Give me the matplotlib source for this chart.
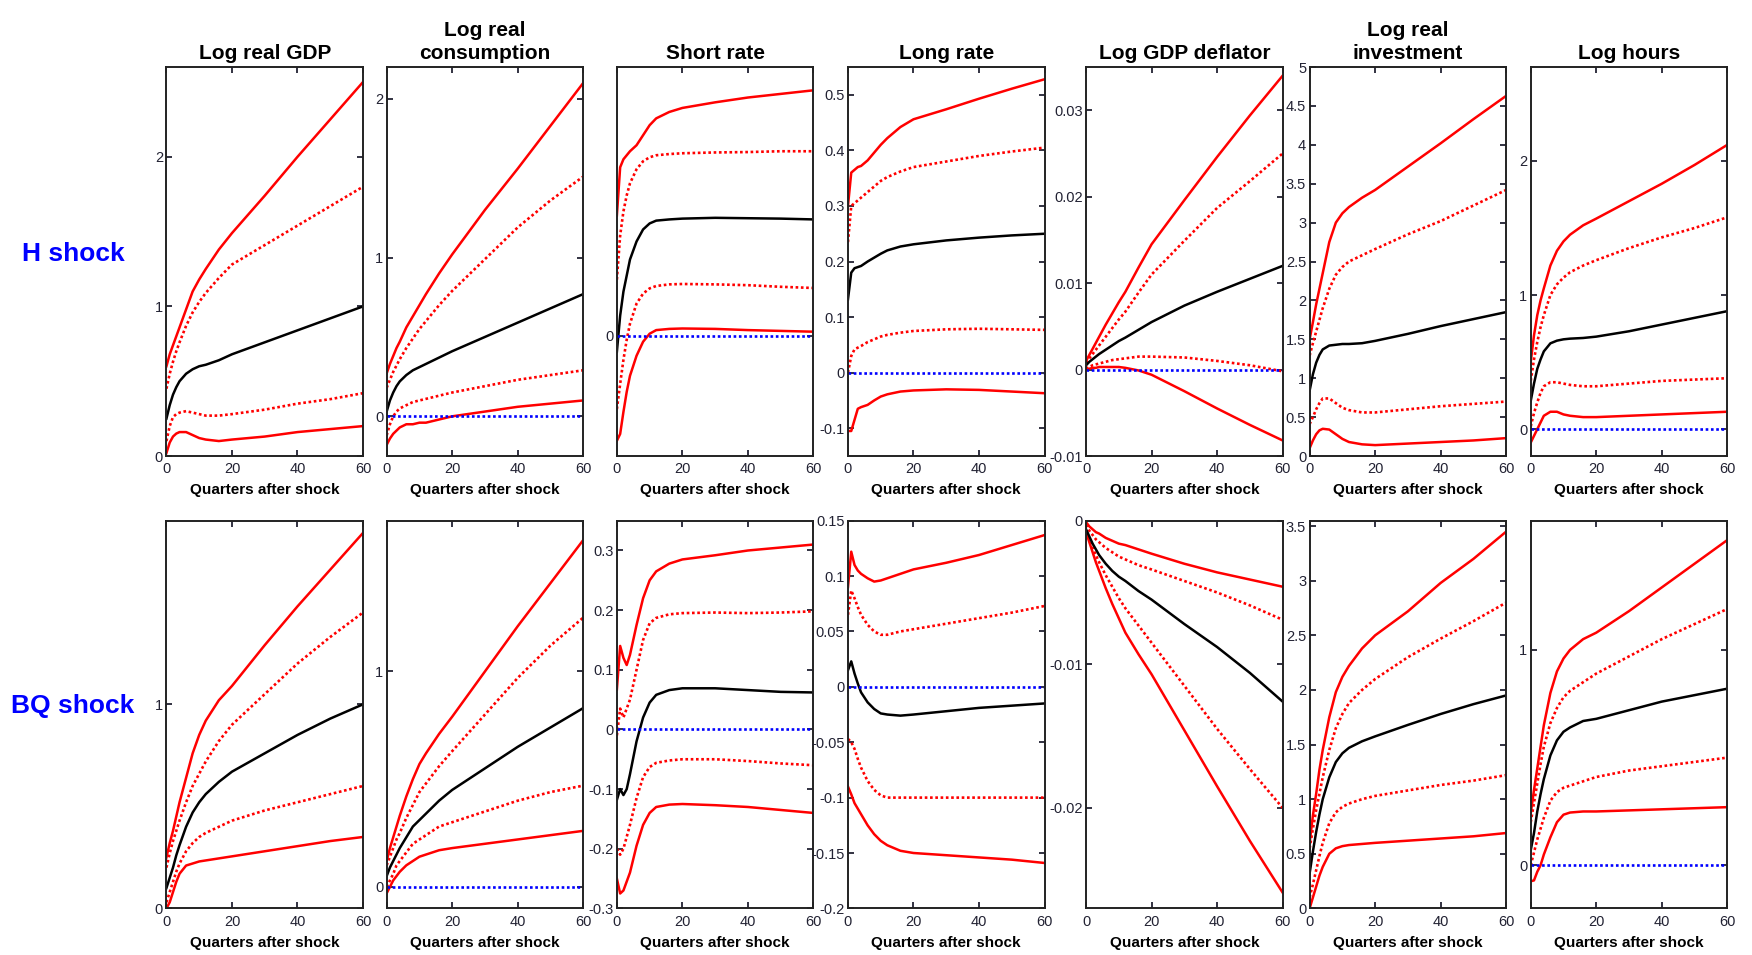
import matplotlib
matplotlib.use('Agg')
from matplotlib import pyplot as plt
from matplotlib.ticker import FuncFormatter

quarters = [0, 1, 2, 3, 4, 6, 8, 10, 12, 16, 20, 30, 40, 50, 60]

titles = ['Log real GDP', 'Log real\nconsumption', 'Short rate', 'Long rate',
          'Log GDP deflator', 'Log real\ninvestment', 'Log hours']
shock_names = ['H shock', 'BQ shock']
x_label = 'Quarters after shock'
x_ticks = [0, 20, 40, 60]

# H shock: upper 90%, upper 68%, median, lower 68%, lower 90%
h_gdp_hi90 = [0.6, 0.68, 0.74, 0.8, 0.86, 0.98, 1.1, 1.18, 1.25, 1.38, 1.49, 1.74, 2.0, 2.25, 2.5]
h_gdp_hi68 = [0.45, 0.55, 0.63, 0.7, 0.76, 0.87, 0.96, 1.03, 1.09, 1.19, 1.28, 1.41, 1.54, 1.67, 1.8]
h_gdp_med = [0.25, 0.34, 0.41, 0.46, 0.5, 0.55, 0.58, 0.6, 0.61, 0.64, 0.68, 0.76, 0.84, 0.92, 1.0]
h_gdp_lo68 = [0.1, 0.2, 0.26, 0.28, 0.29, 0.3, 0.29, 0.28, 0.27, 0.27, 0.28, 0.31, 0.35, 0.38, 0.42]
h_gdp_lo90 = [0.02, 0.09, 0.13, 0.15, 0.16, 0.16, 0.14, 0.12, 0.11, 0.1, 0.11, 0.13, 0.16, 0.18, 0.2]

h_cons_hi90 = [0.27, 0.33, 0.38, 0.43, 0.47, 0.56, 0.63, 0.7, 0.77, 0.9, 1.02, 1.3, 1.56, 1.83, 2.1]
h_cons_hi68 = [0.18, 0.23, 0.28, 0.32, 0.36, 0.43, 0.49, 0.55, 0.6, 0.7, 0.79, 0.99, 1.19, 1.36, 1.51]
h_cons_med = [0.03, 0.1, 0.15, 0.19, 0.22, 0.26, 0.29, 0.31, 0.33, 0.37, 0.41, 0.5, 0.59, 0.68, 0.77]
h_cons_lo68 = [-0.12, -0.05, 0.0, 0.03, 0.05, 0.07, 0.09, 0.1, 0.11, 0.13, 0.15, 0.19, 0.23, 0.26, 0.29]
h_cons_lo90 = [-0.18, -0.14, -0.11, -0.09, -0.07, -0.05, -0.05, -0.04, -0.04, -0.02, 0.0, 0.03, 0.06, 0.08, 0.1]

h_short_hi90 = [0.3, 0.42, 0.44, 0.45, 0.46, 0.475, 0.5, 0.525, 0.542, 0.558, 0.568, 0.582, 0.594, 0.603, 0.612]
h_short_hi68 = [0.14, 0.25, 0.31, 0.35, 0.38, 0.415, 0.435, 0.445, 0.45, 0.453, 0.455, 0.457, 0.458, 0.46, 0.46]
h_short_med = [-0.04, 0.05, 0.11, 0.15, 0.19, 0.235, 0.265, 0.28, 0.287, 0.29, 0.292, 0.294, 0.293, 0.292, 0.29]
h_short_lo68 = [-0.183, -0.12, -0.06, -0.01, 0.03, 0.08, 0.105, 0.118, 0.124, 0.128, 0.129, 0.128, 0.126, 0.122, 0.119]
h_short_lo90 = [-0.262, -0.245, -0.19, -0.14, -0.1, -0.05, -0.015, 0.005, 0.014, 0.017, 0.018, 0.017, 0.014, 0.012, 0.01]

h_long_hi90 = [0.3, 0.36, 0.365, 0.37, 0.372, 0.382, 0.396, 0.41, 0.422, 0.442, 0.456, 0.474, 0.493, 0.511, 0.528]
h_long_hi68 = [0.235, 0.3, 0.305, 0.31, 0.315, 0.325, 0.335, 0.345, 0.352, 0.362, 0.37, 0.38, 0.39, 0.398, 0.405]
h_long_med = [0.132, 0.18, 0.188, 0.19, 0.192, 0.2, 0.207, 0.214, 0.22, 0.227, 0.231, 0.238, 0.243, 0.247, 0.25]
h_long_lo68 = [0.0, 0.03, 0.042, 0.045, 0.048, 0.055, 0.06, 0.065, 0.068, 0.072, 0.075, 0.078, 0.079, 0.078, 0.077]
h_long_lo90 = [-0.105, -0.105, -0.085, -0.065, -0.062, -0.058, -0.05, -0.043, -0.039, -0.034, -0.032, -0.03, -0.031, -0.034, -0.037]

h_defl_hi90 = [0.001, 0.0017, 0.0024, 0.0031, 0.0038, 0.0052, 0.0065, 0.0078, 0.009, 0.0118, 0.0145, 0.0196, 0.0246, 0.0294, 0.034]
h_defl_hi68 = [0.0008, 0.0013, 0.0018, 0.0023, 0.0028, 0.0038, 0.0048, 0.0058, 0.0067, 0.0089, 0.011, 0.0149, 0.0187, 0.0218, 0.025]
h_defl_med = [0.0005, 0.0009, 0.0012, 0.0015, 0.0018, 0.0023, 0.0028, 0.0033, 0.0037, 0.0046, 0.0055, 0.0074, 0.009, 0.0105, 0.012]
h_defl_lo68 = [0.0001, 0.0003, 0.0005, 0.0006, 0.0007, 0.0009, 0.0011, 0.0012, 0.0013, 0.0015, 0.0015, 0.0014, 0.001, 0.0005, -0.0002]
h_defl_lo90 = [0.0, 0.0001, 0.0002, 0.0002, 0.0003, 0.0003, 0.0003, 0.0003, 0.0002, -0.0001, -0.0006, -0.0025, -0.0045, -0.0064, -0.0082]

h_inv_hi90 = [1.5, 1.72, 1.95, 2.15, 2.35, 2.75, 3.0, 3.12, 3.2, 3.32, 3.42, 3.72, 4.02, 4.33, 4.63]
h_inv_hi68 = [1.29, 1.45, 1.6, 1.75, 1.9, 2.15, 2.33, 2.43, 2.5, 2.58, 2.66, 2.85, 3.02, 3.22, 3.42]
h_inv_med = [0.84, 1.05, 1.2, 1.3, 1.37, 1.42, 1.43, 1.44, 1.44, 1.45, 1.48, 1.57, 1.67, 1.76, 1.85]
h_inv_lo68 = [0.41, 0.5, 0.6, 0.68, 0.74, 0.74, 0.68, 0.62, 0.59, 0.56, 0.56, 0.6, 0.64, 0.67, 0.7]
h_inv_lo90 = [0.1, 0.2, 0.28, 0.33, 0.35, 0.34, 0.28, 0.22, 0.18, 0.15, 0.14, 0.16, 0.18, 0.2, 0.23]

h_hours_hi90 = [0.5, 0.7, 0.85, 0.96, 1.05, 1.22, 1.33, 1.4, 1.45, 1.52, 1.57, 1.7, 1.83, 1.97, 2.12]
h_hours_hi68 = [0.36, 0.52, 0.65, 0.76, 0.85, 1.0, 1.08, 1.13, 1.17, 1.22, 1.26, 1.35, 1.43, 1.5, 1.58]
h_hours_med = [0.21, 0.34, 0.45, 0.52, 0.58, 0.64, 0.66, 0.67, 0.675, 0.68, 0.69, 0.73, 0.78, 0.83, 0.88]
h_hours_lo68 = [0.02, 0.12, 0.2, 0.27, 0.32, 0.35, 0.35, 0.34, 0.33, 0.32, 0.32, 0.34, 0.36, 0.37, 0.38]
h_hours_lo90 = [-0.1, -0.05, 0.0, 0.05, 0.1, 0.13, 0.13, 0.11, 0.1, 0.09, 0.09, 0.1, 0.11, 0.12, 0.13]

# BQ shock
bq_gdp_hi90 = [0.25, 0.32, 0.38, 0.45, 0.52, 0.64, 0.76, 0.85, 0.92, 1.02, 1.09, 1.29, 1.48, 1.66, 1.84]
bq_gdp_hi68 = [0.2, 0.27, 0.33, 0.38, 0.43, 0.52, 0.6, 0.66, 0.72, 0.82, 0.9, 1.05, 1.2, 1.33, 1.45]
bq_gdp_med = [0.1, 0.15, 0.2, 0.26, 0.31, 0.4, 0.47, 0.52, 0.56, 0.62, 0.67, 0.76, 0.85, 0.93, 1.0]
bq_gdp_lo68 = [0.03, 0.08, 0.13, 0.18, 0.22, 0.28, 0.32, 0.35, 0.37, 0.4, 0.43, 0.48, 0.52, 0.56, 0.6]
bq_gdp_lo90 = [0.0, 0.03, 0.08, 0.13, 0.17, 0.21, 0.22, 0.23, 0.235, 0.245, 0.255, 0.28, 0.305, 0.33, 0.35]

bq_cons_hi90 = [0.12, 0.18, 0.23, 0.28, 0.33, 0.42, 0.5, 0.57, 0.62, 0.71, 0.79, 1.0, 1.21, 1.41, 1.61]
bq_cons_hi68 = [0.1, 0.14, 0.18, 0.22, 0.25, 0.32, 0.38, 0.44, 0.48, 0.56, 0.63, 0.8, 0.97, 1.12, 1.25]
bq_cons_med = [0.05, 0.09, 0.12, 0.15, 0.18, 0.23, 0.28, 0.31, 0.34, 0.4, 0.45, 0.55, 0.65, 0.74, 0.83]
bq_cons_lo68 = [0.0, 0.03, 0.06, 0.1, 0.12, 0.16, 0.2, 0.22, 0.24, 0.28, 0.3, 0.35, 0.4, 0.44, 0.47]
bq_cons_lo90 = [-0.03, 0.0, 0.03, 0.05, 0.07, 0.1, 0.12, 0.14, 0.15, 0.17, 0.18, 0.2, 0.22, 0.24, 0.26]

bq_short_hi90 = [0.067, 0.14, 0.12, 0.108, 0.125, 0.175, 0.22, 0.25, 0.265, 0.278, 0.285, 0.292, 0.3, 0.305, 0.31]
bq_short_hi68 = [-0.01, 0.035, 0.02, 0.035, 0.05, 0.1, 0.15, 0.178, 0.187, 0.193, 0.195, 0.196, 0.195, 0.196, 0.198]
bq_short_med = [-0.118, -0.1, -0.11, -0.1, -0.075, -0.02, 0.02, 0.045, 0.058, 0.066, 0.069, 0.069, 0.066, 0.063, 0.062]
bq_short_lo68 = [-0.2, -0.21, -0.2, -0.18, -0.16, -0.115, -0.08, -0.063, -0.056, -0.052, -0.05, -0.05, -0.053, -0.057, -0.06]
bq_short_lo90 = [-0.25, -0.275, -0.27, -0.255, -0.24, -0.195, -0.16, -0.14, -0.13, -0.126, -0.125, -0.127, -0.13, -0.135, -0.14]

bq_long_hi90 = [0.09, 0.122, 0.11, 0.105, 0.102, 0.098, 0.095, 0.096, 0.098, 0.102, 0.106, 0.112, 0.119, 0.128, 0.137]
bq_long_hi68 = [0.065, 0.087, 0.08, 0.072, 0.065, 0.056, 0.05, 0.047, 0.047, 0.05, 0.052, 0.057, 0.062, 0.067, 0.073]
bq_long_med = [0.015, 0.023, 0.012, 0.003, -0.005, -0.014, -0.02, -0.024, -0.025, -0.026, -0.025, -0.022, -0.019, -0.017, -0.015]
bq_long_lo68 = [-0.047, -0.05, -0.056, -0.065, -0.073, -0.085, -0.093, -0.098, -0.1, -0.1, -0.1, -0.1, -0.1, -0.1, -0.1]
bq_long_lo90 = [-0.09, -0.097, -0.105, -0.11, -0.115, -0.125, -0.133, -0.139, -0.143, -0.148, -0.15, -0.152, -0.154, -0.156, -0.159]

bq_defl_hi90 = [-0.0001, -0.0004, -0.0006, -0.0008, -0.0009, -0.0012, -0.0014, -0.0016, -0.0017, -0.002, -0.0023, -0.003, -0.0036, -0.0041, -0.0046]
bq_defl_hi68 = [-0.0003, -0.0007, -0.001, -0.0013, -0.0015, -0.0019, -0.0022, -0.0025, -0.0027, -0.0031, -0.0034, -0.0042, -0.005, -0.0059, -0.0069]
bq_defl_med = [-0.0006, -0.0011, -0.0016, -0.002, -0.0024, -0.003, -0.0035, -0.0039, -0.0042, -0.0049, -0.0055, -0.0072, -0.0088, -0.0106, -0.0126]
bq_defl_lo68 = [-0.0008, -0.0013, -0.0019, -0.0024, -0.0029, -0.0038, -0.0046, -0.0054, -0.0061, -0.0073, -0.0085, -0.0115, -0.0145, -0.0173, -0.02]
bq_defl_lo90 = [-0.0008, -0.0015, -0.0022, -0.0029, -0.0035, -0.0047, -0.0058, -0.0068, -0.0078, -0.0093, -0.0107, -0.0146, -0.0185, -0.0223, -0.0259]

bq_inv_hi90 = [0.6, 0.85, 1.05, 1.27, 1.45, 1.75, 1.98, 2.12, 2.22, 2.38, 2.5, 2.72, 2.98, 3.2, 3.45]
bq_inv_hi68 = [0.55, 0.73, 0.9, 1.05, 1.2, 1.45, 1.65, 1.78, 1.88, 2.0, 2.1, 2.3, 2.47, 2.63, 2.8]
bq_inv_med = [0.32, 0.52, 0.7, 0.86, 1.0, 1.2, 1.34, 1.42, 1.47, 1.53, 1.575, 1.68, 1.78, 1.87, 1.95]
bq_inv_lo68 = [0.1, 0.22, 0.35, 0.48, 0.6, 0.78, 0.88, 0.93, 0.96, 1.0, 1.03, 1.08, 1.13, 1.17, 1.22]
bq_inv_lo90 = [0.0, 0.1, 0.2, 0.3, 0.38, 0.5, 0.55, 0.57, 0.58, 0.59, 0.6, 0.62, 0.64, 0.66, 0.69]

bq_hours_hi90 = [0.24, 0.35, 0.45, 0.55, 0.65, 0.8, 0.9, 0.96, 1.0, 1.05, 1.08, 1.18, 1.29, 1.4, 1.51]
bq_hours_hi68 = [0.2, 0.29, 0.38, 0.47, 0.55, 0.66, 0.73, 0.78, 0.81, 0.85, 0.89, 0.97, 1.05, 1.12, 1.19]
bq_hours_med = [0.07, 0.15, 0.25, 0.33, 0.4, 0.51, 0.58, 0.62, 0.64, 0.67, 0.68, 0.72, 0.76, 0.79, 0.82]
bq_hours_lo68 = [0.0, 0.06, 0.12, 0.17, 0.22, 0.3, 0.34, 0.36, 0.37, 0.39, 0.41, 0.44, 0.46, 0.48, 0.5]
bq_hours_lo90 = [-0.074, -0.07, -0.03, 0.0, 0.05, 0.13, 0.2, 0.235, 0.245, 0.25, 0.25, 0.255, 0.26, 0.265, 0.27]

h_ylims = [(0, 2.6), (-0.25, 2.2), (-0.3, 0.67), (-0.15, 0.55), (-0.01, 0.035), (0, 5), (-0.2, 2.7)]
h_yticks = [[0, 1, 2], [0, 1, 2], [0], [-0.1, 0, 0.1, 0.2, 0.3, 0.4, 0.5],
            [-0.01, 0, 0.01, 0.02, 0.03], [0, 0.5, 1, 1.5, 2, 2.5, 3, 3.5, 4, 4.5, 5], [0, 1, 2]]
bq_ylims = [(0, 1.9), (-0.1, 1.7), (-0.3, 0.35), (-0.2, 0.15), (-0.027, 0), (0, 3.55), (-0.2, 1.6)]
bq_yticks = [[0, 1], [0, 1], [-0.3, -0.2, -0.1, 0, 0.1, 0.2, 0.3],
             [-0.2, -0.15, -0.1, -0.05, 0, 0.05, 0.1, 0.15], [-0.02, -0.01, 0],
             [0, 0.5, 1, 1.5, 2, 2.5, 3, 3.5], [0, 1]]

h_panels = [
    (h_gdp_hi90, h_gdp_hi68, h_gdp_med, h_gdp_lo68, h_gdp_lo90),
    (h_cons_hi90, h_cons_hi68, h_cons_med, h_cons_lo68, h_cons_lo90),
    (h_short_hi90, h_short_hi68, h_short_med, h_short_lo68, h_short_lo90),
    (h_long_hi90, h_long_hi68, h_long_med, h_long_lo68, h_long_lo90),
    (h_defl_hi90, h_defl_hi68, h_defl_med, h_defl_lo68, h_defl_lo90),
    (h_inv_hi90, h_inv_hi68, h_inv_med, h_inv_lo68, h_inv_lo90),
    (h_hours_hi90, h_hours_hi68, h_hours_med, h_hours_lo68, h_hours_lo90),
]
bq_panels = [
    (bq_gdp_hi90, bq_gdp_hi68, bq_gdp_med, bq_gdp_lo68, bq_gdp_lo90),
    (bq_cons_hi90, bq_cons_hi68, bq_cons_med, bq_cons_lo68, bq_cons_lo90),
    (bq_short_hi90, bq_short_hi68, bq_short_med, bq_short_lo68, bq_short_lo90),
    (bq_long_hi90, bq_long_hi68, bq_long_med, bq_long_lo68, bq_long_lo90),
    (bq_defl_hi90, bq_defl_hi68, bq_defl_med, bq_defl_lo68, bq_defl_lo90),
    (bq_inv_hi90, bq_inv_hi68, bq_inv_med, bq_inv_lo68, bq_inv_lo90),
    (bq_hours_hi90, bq_hours_hi68, bq_hours_med, bq_hours_lo68, bq_hours_lo90),
]


def draw_panel(ax, curves, ylim, yticks):
    hi90, hi68, med, lo68, lo90 = curves
    dots = (0, (1, 1))
    ax.plot(quarters, hi90, c='red', lw=1.8)
    ax.plot(quarters, lo90, c='red', lw=1.8)
    ax.plot(quarters, hi68, c='red', lw=1.9, ls=dots)
    ax.plot(quarters, lo68, c='red', lw=1.9, ls=dots)
    ax.plot(quarters, med, c='black', lw=1.8)
    # zero line, hidden when it sits on the frame
    if ylim[0] < 0 < ylim[1]:
        ax.axhline(0, c='blue', lw=1.9, ls=dots)

    ax.set_xlim(0, 60)
    ax.set_ylim(*ylim)
    ax.set_xticks(x_ticks)
    ax.set_yticks(yticks)
    ax.yaxis.set_major_formatter(FuncFormatter(lambda v, p: '%g' % round(v, 4)))
    ax.tick_params(direction='in', top=True, right=True, length=4, width=1.3,
                   labelsize=10.5, pad=2.5, colors='#222233')
    ax.tick_params(axis='x', pad=4.5)
    for s in ax.spines.values():
        s.set_linewidth(1.4)
        s.set_color('#222222')
    ax.set_xlabel(x_label, fontsize=11, fontweight='bold', labelpad=5)


def plot():
    plt.rcParams['font.family'] = ['Liberation Sans', 'DejaVu Sans']
    fig = plt.figure(figsize=(17.52, 9.55), dpi=100)

    lefts = [0.0950, 0.2207, 0.3521, 0.4840, 0.6199, 0.7475, 0.8737]
    width = 0.1122
    rows = [(0.5225, 0.4073, h_panels, h_ylims, h_yticks),
            (0.0488, 0.4060, bq_panels, bq_ylims, bq_yticks)]

    for r, (bottom, height, panels, ylims, yticks) in enumerate(rows):
        for c in range(7):
            ax = fig.add_axes([lefts[c], bottom, width, height])
            draw_panel(ax, panels[c], ylims[c], yticks[c])
            if r == 0:
                ax.set_title(titles[c], fontsize=15, fontweight='bold', pad=6, linespacing=1.25)

    fig.text(73 / 1752, 1 - 254 / 955, shock_names[0], color='blue', fontsize=19,
             fontweight='bold', ha='center', va='center')
    fig.text(73 / 1752, 1 - 706 / 955, shock_names[1], color='blue', fontsize=19,
             fontweight='bold', ha='center', va='center')

    fig.savefig('out.png', dpi=100)
    plt.close(fig)


if __name__ == '__main__':
    plot()
